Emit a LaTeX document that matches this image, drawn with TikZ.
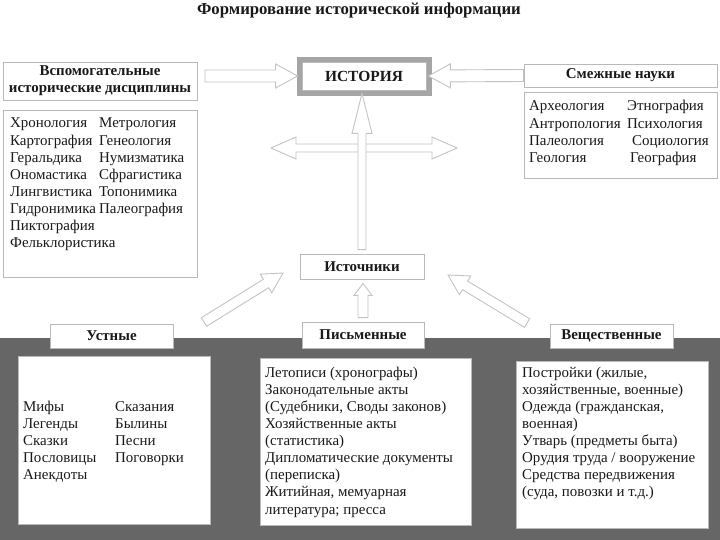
\documentclass[tikz,border=0pt]{standalone}
\usepackage{fontspec}
\setmainfont{Liberation Serif}
\usetikzlibrary{calc}
\definecolor{bggray}{RGB}{102,102,102}
\definecolor{edge}{RGB}{185,185,185}
\definecolor{arr}{RGB}{195,195,195}
\definecolor{frame}{RGB}{165,165,165}
\definecolor{txt}{RGB}{25,25,25}
\tikzset{
 hbox/.style={draw=edge, fill=white, line width=0.8bp, inner sep=0pt, font=\fontsize{15}{17}\selectfont\bfseries, text=txt, align=center},
 lbox/.style={draw=edge, fill=white, line width=0.8bp, inner sep=0pt},
 ltext/.style={anchor=base west, inner sep=0pt, font=\fontsize{15}{17.2}\selectfont, text=txt},
 barrow/.style={draw=arr, fill=white, line width=0.9bp, line join=miter},
}
\newcommand\blockarrow[5]{%
 \coordinate (ba-h) at ($(#2)!#5!(#1)$);
 \draw[barrow] ($(#1)!#3!90:(#2)$) -- ($(ba-h)!#3!90:(#2)$) -- ($(ba-h)!#4!90:(#2)$) -- (#2)
   -- ($(ba-h)!#4!-90:(#2)$) -- ($(ba-h)!#3!-90:(#2)$) -- ($(#1)!#3!-90:(#2)$) -- cycle;
}
\begin{document}
\begin{tikzpicture}[x=1bp,y=-1bp]
\useasboundingbox (0,0) rectangle (720,540);
\fill[bggray] (0,338) rectangle (720,540);
% title
\node[inner sep=0pt, font=\fontsize{16.8}{18}\selectfont\bfseries, text=txt] (title) at (359,10) {Формирование исторической информации};
% top row
\node[hbox, minimum width=194bp, minimum height=38bp] (vsp) at (100,81) {Вспомогательные\\исторические дисциплины};
\node[lbox, minimum width=194bp, minimum height=167bp] (llist) at (100,193.5) {};
\node[ltext] (lltext) at (10,128) {\begin{tabular}[t]{@{}p{89bp}@{}l@{}}
Хронология & Метрология\\
Картография & Генеология\\
Геральдика & Нумизматика\\
Ономастика & Сфрагистика\\
Лингвистика & Топонимика\\
Гидронимика & Палеография\\
Пиктография & \\
Фельклористика &
\end{tabular}};
\node[fill=frame, draw=frame, minimum width=134bp, minimum height=38bp, inner sep=0pt] (histf) at (364,76) {};
\node[hbox, minimum width=124bp, minimum height=28bp, font=\fontsize{15.5}{17}\selectfont\bfseries] (hist) at (364,76) {ИСТОРИЯ};
\node[hbox, minimum width=193bp, minimum height=23bp] (smezh) at (620.5,75.5) {Смежные науки};
\node[lbox, minimum width=193bp, minimum height=86bp] (rlist) at (620.5,135) {};
\node[ltext] (rltext) at (529,111) {\begin{tabular}[t]{@{}p{98bp}@{}l@{}}
Археология & Этнография\\
Антропология & Психология\\
Палеология & \hspace{5bp}Социология\\
Геология & \hspace{3bp}География
\end{tabular}};
% sources
\node[hbox, minimum width=124bp, minimum height=25bp] (ist) at (362,266.5) {Источники};
% arrows
\coordinate (a1s) at (205,76);
\coordinate (a1e) at ([xshift=-4bp]hist.west);
\blockarrow{a1s}{a1e}{6bp}{12bp}{22bp}
\coordinate (a2s) at ([yshift=0bp]smezh.west);
\coordinate (a2e) at ([xshift=2bp]hist.east);
\blockarrow{a2s}{a2e}{6bp}{12bp}{22bp}
% horizontal double arrow
\coordinate (hL) at (271,148);
\coordinate (hR) at (457,148);
\coordinate (hHL) at ($(hL)!25bp!(hR)$);
\coordinate (hHR) at ($(hR)!25bp!(hL)$);
\draw[barrow] (hL) -- ($(hHL)!11bp!90:(hR)$) -- ($(hHL)!4bp!90:(hR)$) -- ($(hHR)!4bp!90:(hR)$) -- ($(hHR)!11bp!90:(hR)$) -- (hR)
  -- ($(hHR)!11bp!-90:(hR)$) -- ($(hHR)!4bp!-90:(hR)$) -- ($(hHL)!4bp!-90:(hR)$) -- ($(hHL)!11bp!-90:(hR)$) -- cycle;
\coordinate (vs) at ([yshift=4bp]ist.north);
\coordinate (ve) at ([yshift=-3bp]ist.north |- hist.south);
\blockarrow{vs}{ve}{4bp}{10bp}{40bp}
% bottom headers
\node[hbox, minimum width=123bp, minimum height=24bp] (ust) at (111.5,336) {Устные};
\node[hbox, minimum width=122bp, minimum height=26bp] (pis) at (363,335) {Письменные};
\node[hbox, minimum width=123bp, minimum height=24bp] (vesh) at (611.5,336) {Вещественные};
\coordinate (us) at (204,322);
\coordinate (ue) at (283,273);
\blockarrow{us}{ue}{5bp}{11bp}{20bp}
\coordinate (ps) at ([yshift=4bp]pis.north);
\coordinate (pe) at ([yshift=-4bp]pis.north |- ist.south);
\blockarrow{ps}{pe}{5bp}{9bp}{12bp}
\coordinate (ws) at (527,323);
\coordinate (we) at (448,275);
\blockarrow{ws}{we}{5bp}{11bp}{20bp}
% bottom lists
\node[lbox, minimum width=192bp, minimum height=168bp] (blbox) at (114,440) {};
\node[ltext] (bltext) at (23,411) {\begin{tabular}[t]{@{}p{92bp}@{}l@{}}
Мифы & Сказания\\
Легенды & Былины\\
Сказки & Песни\\
Пословицы & Поговорки\\
Анекдоты &
\end{tabular}};
\node[lbox, minimum width=211bp, minimum height=167bp] (bmbox) at (365.5,441.5) {};
\node[ltext] (bmtext) at (265,377) {\begin{tabular}[t]{@{}l@{}}
Летописи (хронографы)\\
Законодательные акты\\
(Судебники, Своды законов)\\
Хозяйственные акты\\
(статистика)\\
Дипломатические документы\\
(переписка)\\
Житийная, мемуарная\\
литература; пресса
\end{tabular}};
\node[lbox, minimum width=192bp, minimum height=167bp] (brbox) at (612,444.5) {};
\node[ltext] (brtext) at (522,377) {\begin{tabular}[t]{@{}l@{}}
Постройки (жилые,\\
хозяйственные, военные)\\
Одежда (гражданская,\\
военная)\\
Утварь (предметы быта)\\
Орудия труда / вооружение\\
Средства передвижения\\
(суда, повозки и т.д.)
\end{tabular}};
\end{tikzpicture}
\end{document}
